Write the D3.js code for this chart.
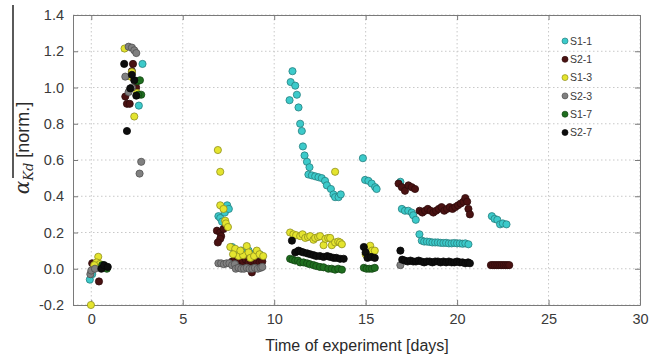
<!DOCTYPE html>
<html><head><meta charset="utf-8">
<script src="https://cdn.jsdelivr.net/npm/d3@7"></script>
<style>body{margin:0;background:#fff}svg{display:block}</style>
</head><body>
<svg id="c" width="665" height="359"></svg>
<script>
const seriesNames = ["S1-1","S2-1","S1-3","S2-3","S1-7","S2-7"];
const seriesColors = ["#3ccaca","#4a1212","#e4e42e","#808080","#1f6e1f","#0d0d0d"];
const xTicks = [0,5,10,15,20,25,30];
const xTickLabels = ["0","5","10","15","20","25","30"];
const yTicks = [-0.2,0,0.2,0.4,0.6,0.8,1.0,1.2,1.4];
const yTickLabels = ["-0.2","0.0","0.2","0.4","0.6","0.8","1.0","1.2","1.4"];

// [day, value]
const s1_1 = [
  [-0.08,-0.06],[0.05,-0.03],
  [2.6,0.90],[2.8,1.13],
  [6.95,0.29],[7.05,0.28],[7.15,0.26],[7.3,0.31],[7.43,0.35],[7.52,0.33],
  [7.7,0.12],[7.87,0.10],[8.0,0.09],[8.2,0.10],[8.4,0.09],[8.6,0.10],[8.8,0.08],[9.0,0.09],[9.2,0.08],
  [11.0,1.09],[10.9,1.03],[11.15,1.01],[11.24,0.96],[10.84,0.93],[11.33,0.89],[11.42,0.80],[11.51,0.76],
  [11.57,0.675],[11.66,0.625],[11.79,0.59],[11.93,0.56],[11.87,0.52],[12.06,0.515],[12.24,0.51],
  [12.42,0.505],[12.6,0.50],[12.78,0.485],[12.88,0.46],[13.1,0.44],[13.24,0.41],[13.33,0.395],
  [13.52,0.395],[13.64,0.41],
  [14.85,0.61],[14.97,0.49],[15.15,0.485],[15.33,0.47],[15.52,0.45],[15.6,0.44],
  [16.9,0.48],[16.98,0.33],[17.15,0.32],[17.33,0.32],[17.52,0.31],[17.6,0.295],[17.74,0.27],
  [17.94,0.19],[18.07,0.155],[18.2,0.15],[18.35,0.15],[18.5,0.148],[18.65,0.145],[18.8,0.145],
  [18.95,0.145],[19.1,0.143],[19.25,0.142],[19.4,0.143],[19.55,0.14],[19.7,0.14],[19.85,0.142],
  [20.0,0.14],[20.15,0.14],[20.3,0.138],[20.45,0.14],[20.62,0.135],
  [21.9,0.29],[22.05,0.275],[22.2,0.27],[22.35,0.245],[22.5,0.25],[22.7,0.245]
];
const s2_1 = [
  [0.05,0.03],[0.42,-0.07],
  [1.86,0.95],[1.95,0.91],[2.1,0.91],[2.28,1.13],[2.22,1.09],[2.45,1.0],
  [6.87,0.21],[7.05,0.20],[7.1,0.18],[7.05,0.165],[6.92,0.145],[7.23,0.22],
  [7.7,0.04],[7.85,0.05],[8.0,0.035],[8.15,0.045],[8.3,0.04],[8.45,0.05],[8.6,0.035],[8.75,0.04],
  [8.9,0.045],[9.05,0.04],[9.2,0.035],[9.35,0.04],[8.78,-0.02],
  [16.8,0.47],[16.98,0.45],[17.15,0.43],[17.34,0.46],[17.52,0.45],[17.7,0.44],
  [17.95,0.32],[18.1,0.31],[18.25,0.32],[18.4,0.33],[18.55,0.32],[18.7,0.31],[18.85,0.32],
  [19.0,0.33],[19.15,0.34],[19.3,0.32],[19.45,0.33],[19.6,0.34],[19.75,0.33],[19.9,0.34],
  [20.05,0.35],[20.2,0.36],[20.35,0.37],[20.45,0.39],[20.55,0.37],[20.62,0.33],[20.7,0.30],
  [21.85,0.02],[21.95,0.02],[22.05,0.02],[22.15,0.02],[22.25,0.02],[22.35,0.02],[22.45,0.02],
  [22.55,0.02],[22.65,0.02],[22.75,0.02],[22.85,0.02]
];
const s1_3 = [
  [-0.02,-0.2],[0.38,0.066],[0.29,0.035],[0.47,0.026],[0.16,0.02],
  [1.82,1.215],[2.22,1.085],[2.15,1.06],[2.35,0.84],[2.5,0.97],
  [6.92,0.655],[7.05,0.535],[7.05,0.35],[7.23,0.33],[7.32,0.265],[7.36,0.25],[7.47,0.23],
  [7.6,0.12],[7.87,0.11],[8.05,0.07],[8.3,0.075],[8.5,0.125],[8.6,0.09],[8.7,0.06],
  [8.9,0.07],[9.05,0.10],[9.2,0.08],[9.4,0.07],[7.75,0.08],[8.15,0.10],
  [10.87,0.20],[11.05,0.19],[11.2,0.185],[11.42,0.18],[11.55,0.19],[11.7,0.17],[11.85,0.175],
  [11.97,0.18],[12.15,0.16],[12.24,0.17],[12.4,0.175],[12.51,0.18],[12.7,0.13],[12.8,0.165],
  [12.95,0.17],[13.06,0.17],[13.15,0.13],[13.33,0.145],[13.5,0.15],[13.6,0.145],[13.7,0.135],
  [13.33,0.535],
  [15.0,0.08],[15.2,0.08],[15.25,0.127],[15.35,0.10],[15.5,0.10]
];
const s2_3 = [
  [-0.05,-0.03],[0.0,-0.01],[0.2,0.0],
  [2.04,1.225],[2.22,1.22],[2.35,1.205],[2.46,1.19],[1.86,1.06],[2.04,0.975],[2.22,1.0],
  [2.73,0.59],[2.64,0.525],
  [6.95,0.03],[7.1,0.03],[7.25,0.025],[7.4,0.03],[7.55,0.03],[7.7,0.02],[7.85,0.025],
  [7.9,0.0],[8.05,0.005],[8.2,0.0],[8.35,0.0],[8.5,0.005],[8.65,0.0],[8.8,0.0],[8.95,0.005],
  [9.1,0.0],[9.25,0.005],[9.35,0.01],
  [16.9,0.02]
];
const s1_7 = [
  [0.6,0.02],[0.75,0.01],[0.85,0.0],
  [2.53,1.035],[2.66,1.04],[2.73,0.96],[2.57,0.96],
  [10.87,0.055],[11.0,0.05],[11.15,0.045],[11.3,0.045],[11.42,0.035],[11.6,0.035],[11.8,0.03],
  [11.95,0.025],[12.15,0.02],[12.3,0.015],[12.5,0.01],[12.7,0.008],[12.96,0.0],[13.15,0.0],
  [13.33,-0.005],[13.5,0.0],[13.7,-0.005],
  [14.9,0.005],[15.05,0.0],[15.2,0.0],[15.35,0.0],[15.5,0.005]
];
const s2_7 = [
  [0.55,0.0],[0.7,0.02],[0.9,0.01],
  [1.8,1.13],[1.95,0.76],[2.13,0.995],[2.35,1.04],[2.46,0.955],[2.22,1.07],
  [10.97,0.155],[11.15,0.09],[11.33,0.10],[11.45,0.095],[11.6,0.09],[11.8,0.085],[11.97,0.08],
  [12.15,0.075],[12.3,0.07],[12.5,0.07],[12.7,0.065],[12.9,0.07],[13.06,0.065],[13.25,0.06],
  [13.4,0.06],[13.6,0.055],[13.8,0.055],
  [14.9,0.12],[15.0,0.09],[15.1,0.06],[15.3,0.065],[15.5,0.06],
  [16.9,0.10],[17.0,0.05],[17.15,0.045],[17.3,0.04],[17.45,0.045],[17.6,0.04],[17.75,0.04],
  [17.9,0.045],[18.05,0.04],[18.2,0.035],[18.35,0.04],[18.5,0.04],[18.65,0.035],[18.8,0.04],
  [18.95,0.04],[19.1,0.035],[19.25,0.04],[19.4,0.035],[19.55,0.04],[19.7,0.035],[19.85,0.035],
  [20.0,0.04],[20.15,0.035],[20.3,0.035],[20.45,0.03],[20.6,0.035],[20.7,0.03]
];
const seriesData = [s1_1,s2_1,s1_3,s2_3,s1_7,s2_7];

const svg = d3.select("#c");
const L=73,R=640,T=15,B=305;
const x = d3.scaleLinear().domain([-1,30]).range([L,R]);
const y = d3.scaleLinear().domain([-0.2,1.4]).range([B,T]);

// grid
const g = svg.append("g");
g.selectAll(".gx").data(xTicks).enter().append("line")
  .attr("x1",d=>x(d)).attr("x2",d=>x(d)).attr("y1",T).attr("y2",B)
  .attr("stroke","#c8c8c8").attr("stroke-dasharray","1.5,2.5").attr("stroke-width",1);
g.selectAll(".gy").data(yTicks).enter().append("line")
  .attr("x1",L).attr("x2",R).attr("y1",d=>y(d)).attr("y2",d=>y(d))
  .attr("stroke","#c8c8c8").attr("stroke-dasharray","1.5,2.5").attr("stroke-width",1);

// axes via d3
const axCol="#7a7a7a";
const xb = svg.append("g").attr("transform",`translate(0,${B})`)
  .call(d3.axisBottom(x).tickValues(xTicks).tickFormat((d,i)=>xTickLabels[i]).tickSizeInner(-5).tickSizeOuter(0).tickPadding(9));
const yl = svg.append("g").attr("transform",`translate(${L},0)`)
  .call(d3.axisLeft(y).tickValues(yTicks).tickFormat((d,i)=>yTickLabels[i]).tickSizeInner(-5).tickSizeOuter(0).tickPadding(9));
const xt = svg.append("g").attr("transform",`translate(0,${T})`)
  .call(d3.axisTop(x).tickValues(xTicks).tickFormat("").tickSizeInner(-5).tickSizeOuter(0));
const yr = svg.append("g").attr("transform",`translate(${R},0)`)
  .call(d3.axisRight(y).tickValues(yTicks).tickFormat("").tickSizeInner(-5).tickSizeOuter(0));
[xb,yl,xt,yr].forEach(a=>{
  a.select(".domain").attr("stroke",axCol);
  a.selectAll(".tick line").attr("stroke",axCol);
  a.selectAll("text").attr("fill","#3a3a3a").style("font-family","Liberation Sans, Arial, sans-serif").style("font-size","14.5px");
});

// points
seriesData.forEach((data,i)=>{
  const c = seriesColors[i];
  svg.append("g").selectAll("circle").data(data).enter().append("circle")
    .attr("cx",d=>x(d[0])).attr("cy",d=>y(d[1])).attr("r",3.6)
    .attr("fill",c).attr("stroke",d3.color(c).darker(1.3)).attr("stroke-width",0.8);
});

// legend
const lg = svg.append("g");
seriesNames.forEach((n,i)=>{
  const yy = 41 + i*18.3;
  lg.append("circle").attr("cx",565).attr("cy",yy).attr("r",3)
    .attr("fill",seriesColors[i]).attr("stroke",d3.color(seriesColors[i]).darker(1.3)).attr("stroke-width",0.7);
  lg.append("text").attr("x",570).attr("y",yy+3.8).text(n)
    .attr("fill","#3a3a3a").style("font-family","Liberation Sans, Arial, sans-serif").style("font-size","10.5px");
});

// axis labels
svg.append("text").attr("x",357).attr("y",351).attr("text-anchor","middle")
  .attr("fill","#2a2a2a").style("font-family","Liberation Sans, Arial, sans-serif").style("font-size","16px")
  .text("Time of experiment [days]");
const yt = svg.append("text").attr("transform","translate(29,148) rotate(-90)").attr("text-anchor","middle")
  .attr("fill","#2a2a2a").style("font-family","Liberation Sans, Arial, sans-serif").style("font-size","18px");
yt.append("tspan").style("font-family","DejaVu Serif, serif").style("font-style","italic").style("font-size","20px").text("α");
yt.append("tspan").attr("dy",4).style("font-family","DejaVu Serif, serif").style("font-style","italic").style("font-size","13px").text("Kd");
yt.append("tspan").attr("dy",-4).text(" [norm.]");

// stray vertical line at left edge
svg.append("line").attr("x1",13).attr("x2",13).attr("y1",5).attr("y2",178).attr("stroke","#000").attr("stroke-width",1.3);
</script>
</body></html>
